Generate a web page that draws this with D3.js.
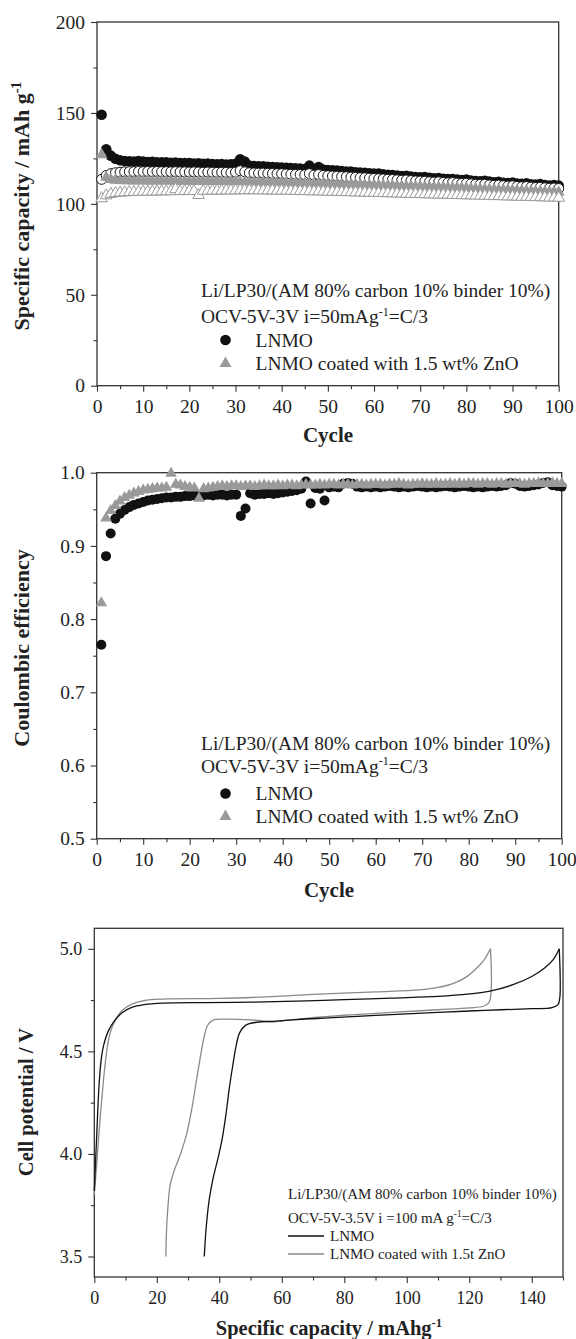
<!DOCTYPE html>
<html>
<head>
<meta charset="utf-8">
<script src="https://cdn.jsdelivr.net/npm/d3@7"></script>
<style>
  body { margin: 0; background: #fff; }
  svg text { font-family: "Liberation Serif", "Times New Roman", serif; fill: #222; }
</style>
</head>
<body>
<div id="chart"></div>
<script>
// ---- data ----
var cycles = d3.range(1, 101);

// panel 1: specific capacity (mAh/g), charge = filled, discharge = open
var lnmoCharge = [149.0,130.0,126.5,124.8,124.0,123.6,123.4,123.3,123.5,123.2,
  123.0,123.1,122.9,122.8,122.9,122.6,122.7,122.5,122.4,122.5,
  122.2,122.3,122.0,122.1,121.9,121.8,121.9,121.6,121.7,122.0,
  124.5,123.3,121.0,120.8,120.6,120.7,120.4,120.3,120.1,120.0,
  119.8,119.7,119.5,119.4,119.2,121.0,119.2,120.2,118.8,118.6,
  118.4,118.3,118.0,117.8,117.7,117.4,117.2,117.1,116.8,116.6,
  116.7,116.2,116.0,115.8,115.5,115.3,115.4,115.0,114.8,114.6,
  114.7,114.3,114.1,114.2,113.8,113.6,113.7,113.3,113.1,113.4,
  112.8,112.6,112.4,112.7,112.2,111.9,112.1,111.6,111.4,111.7,
  111.2,111.0,111.3,110.8,110.6,110.9,110.3,110.1,110.4,110.0];
var lnmoDischarge = [113.5,115.6,116.6,117.1,117.4,117.6,117.7,117.7,117.8,117.7,
  117.8,117.7,117.8,117.7,117.7,117.6,117.7,117.6,117.6,117.5,
  117.6,117.5,117.4,117.5,117.4,117.3,117.4,117.3,117.2,117.4,
  118.2,117.6,117.1,117.0,116.9,116.9,116.8,116.7,116.6,116.6,
  116.4,116.3,116.2,116.1,116.0,116.6,115.8,116.1,115.6,115.5,
  115.3,115.2,115.0,114.9,114.7,114.6,114.4,114.3,114.1,114.0,
  113.8,113.7,113.5,113.4,113.2,113.0,113.1,112.8,112.6,112.5,
  112.4,112.1,112.0,112.1,111.8,111.6,111.7,111.4,111.2,111.3,
  111.0,110.8,110.7,110.8,110.4,110.2,110.3,110.0,109.8,109.9,
  109.6,109.4,109.5,109.2,109.0,109.1,108.8,108.6,108.7,108.4];
var znoCharge = [127.0,114.6,113.4,113.0,112.8,112.7,112.7,112.6,112.7,112.6,
  112.6,112.5,112.6,112.5,112.5,112.6,112.4,112.5,112.4,112.4,
  112.3,112.4,112.3,112.3,112.2,112.3,112.2,112.2,112.1,112.2,
  112.1,112.0,112.1,112.0,111.9,111.9,111.8,111.8,111.7,111.6,
  111.6,111.5,111.4,111.4,111.3,111.2,111.2,111.1,111.0,110.9,
  110.9,110.8,110.7,110.6,110.6,110.5,110.4,110.3,110.3,110.2,
  110.1,110.0,110.0,109.9,109.8,109.7,109.6,109.6,109.5,109.4,
  109.3,109.2,109.2,109.1,109.0,108.9,108.8,108.8,108.7,108.6,
  108.3,108.2,108.1,108.0,107.9,107.8,107.7,107.6,107.5,107.4,
  107.3,107.2,107.1,107.0,106.9,106.8,106.7,106.6,106.5,106.4];
var znoDischarge = [103.0,104.6,105.4,105.9,106.1,106.3,106.4,106.5,106.5,106.6,
  106.6,106.7,106.7,106.8,106.8,106.9,108.0,106.9,107.0,107.0,
  107.0,104.8,107.1,107.1,107.2,107.2,107.2,107.3,107.3,107.3,
  107.4,107.4,107.4,107.4,107.4,107.3,107.3,107.3,107.2,107.2,
  107.1,107.1,107.0,107.0,106.9,106.9,106.8,106.8,106.7,106.6,
  106.6,106.5,106.4,106.4,106.3,106.2,106.2,106.1,106.0,106.0,
  105.9,105.8,105.8,105.7,105.6,105.6,105.5,105.4,105.4,105.3,
  105.2,105.2,105.1,105.0,105.0,104.9,104.8,104.8,104.7,104.6,
  104.6,104.5,104.4,104.4,104.3,104.2,104.2,104.1,104.0,104.0,
  103.9,103.8,103.8,103.7,103.6,103.6,103.5,103.4,103.4,103.3];

// panel 2: coulombic efficiency
var lnmoEff = [0.765,0.886,0.917,0.937,0.944,0.949,0.953,0.956,0.958,0.960,
  0.962,0.963,0.964,0.965,0.966,0.966,0.967,0.967,0.968,0.968,
  0.969,0.968,0.969,0.970,0.969,0.970,0.970,0.969,0.970,0.970,
  0.941,0.951,0.972,0.970,0.971,0.971,0.972,0.971,0.972,0.973,
  0.974,0.975,0.976,0.978,0.988,0.958,0.979,0.978,0.962,0.980,
  0.981,0.980,0.985,0.986,0.985,0.981,0.980,0.981,0.980,0.981,
  0.980,0.981,0.982,0.981,0.980,0.981,0.980,0.981,0.982,0.981,
  0.980,0.981,0.980,0.981,0.982,0.981,0.980,0.981,0.982,0.981,
  0.980,0.981,0.980,0.981,0.982,0.981,0.982,0.983,0.986,0.985,
  0.982,0.981,0.982,0.983,0.984,0.986,0.987,0.983,0.982,0.981];
var znoEff = [0.822,0.938,0.948,0.955,0.961,0.966,0.969,0.972,0.974,0.976,
  0.977,0.978,0.979,0.979,0.980,0.999,0.984,0.983,0.981,0.980,
  0.979,0.965,0.978,0.979,0.980,0.981,0.982,0.981,0.982,0.982,
  0.981,0.982,0.982,0.981,0.982,0.983,0.982,0.982,0.983,0.982,
  0.983,0.983,0.982,0.983,0.984,0.983,0.983,0.984,0.983,0.984,
  0.984,0.983,0.984,0.984,0.983,0.984,0.984,0.983,0.984,0.984,
  0.984,0.983,0.984,0.984,0.985,0.984,0.983,0.984,0.984,0.985,
  0.984,0.984,0.985,0.984,0.984,0.985,0.984,0.985,0.984,0.985,
  0.985,0.984,0.985,0.985,0.984,0.985,0.985,0.984,0.985,0.985,
  0.985,0.984,0.985,0.985,0.986,0.985,0.985,0.986,0.985,0.985];

// panel 3: voltage profiles [capacity mAh/g, V]
var lnmoVCharge = [[0,3.82],[0.8,4.1],[1.5,4.33],[2.2,4.46],[3,4.53],[4.5,4.6],[6.5,4.65],
  [9,4.69],[12,4.715],[16,4.728],[22,4.735],[35,4.738],[50,4.74],[65,4.745],[80,4.752],
  [95,4.76],[110,4.768],[120,4.78],[127,4.795],[134,4.825],[140,4.865],[144,4.905],
  [147,4.95],[148.8,5.0]];
var lnmoVDischarge = [[148.8,5.0],[149.1,4.86],[149,4.765],[148.4,4.728],[146.5,4.713],
  [140,4.708],[125,4.7],[110,4.69],[90,4.675],[75,4.663],[65,4.655],[58,4.647],[52,4.642],
  [48.5,4.628],[46.5,4.59],[45.3,4.52],[44.3,4.43],[43.2,4.32],[42.2,4.2],[41,4.08],
  [39.6,3.98],[38,3.88],[36.8,3.78],[35.8,3.64],[35.2,3.5]];
var znoVCharge = [[0,3.8],[1,4.0],[2,4.2],[3,4.37],[3.8,4.48],[4.6,4.56],[5.5,4.61],[7,4.66],
  [9,4.7],[12,4.73],[16,4.748],[22,4.755],[40,4.758],[55,4.766],[70,4.778],[90,4.79],
  [104,4.8],[110,4.812],[115,4.832],[119,4.862],[122,4.9],[124.7,4.945],[126.8,5.0]];
var znoVDischarge = [[126.8,5.0],[127.1,4.87],[126.9,4.775],[126.3,4.738],[124.5,4.72],
  [120,4.712],[110,4.703],[95,4.69],[80,4.676],[65,4.657],[60,4.648],[57,4.643],[54,4.649],
  [48,4.655],[42,4.657],[38,4.652],[36.2,4.625],[35,4.56],[33.8,4.46],[32.6,4.35],
  [31.2,4.22],[29.6,4.1],[27.6,4.0],[25.6,3.92],[24.3,3.85],[23.6,3.75],[23.1,3.62],[22.9,3.5]];

// tick values
var cycleTicks = [0,10,20,30,40,50,60,70,80,90,100];
var cycleMinor = [5,15,25,35,45,55,65,75,85,95];
var capTicks = [0,50,100,150,200];
var capMinor = [25,75,125,175];
var effTicks = [0.5,0.6,0.7,0.8,0.9,1.0];
var effMinor = [0.55,0.65,0.75,0.85,0.95];
var specTicks = [0,20,40,60,80,100,120,140];
var specMinor = [10,30,50,70,90,110,130,150];
var voltTicks = [3.5,4.0,4.5,5.0];
var voltMinor = [3.75,4.25,4.75];

var svg = d3.select("#chart")
  .append("svg")
    .attr("width", 576)
    .attr("height", 1339);

// axes + frame for one panel
function panel(box, x, y, o) {
  var g = svg.append("g").attr("transform", "translate(" + box.left + "," + box.top + ")");
  var w = box.right - box.left, h = box.bottom - box.top;

  g.append("g").attr("transform", "translate(0," + h + ")")
    .call(d3.axisBottom(x).tickValues(o.xMinor).tickSize(3.5).tickSizeOuter(0).tickFormat(""));
  g.append("g").attr("transform", "translate(0," + h + ")")
    .call(d3.axisBottom(x).tickValues(o.xMajor).tickSize(6).tickSizeOuter(0).tickPadding(o.xPad).tickFormat(o.xFmt))
    .selectAll("text").attr("font-size", o.fs);
  g.append("g")
    .call(d3.axisLeft(y).tickValues(o.yMinor).tickSize(3.5).tickSizeOuter(0).tickFormat(""));
  g.append("g")
    .call(d3.axisLeft(y).tickValues(o.yMajor).tickSize(6).tickSizeOuter(0).tickPadding(6).tickFormat(o.yFmt))
    .selectAll("text").attr("font-size", o.fs);

  g.selectAll(".domain").remove();
  g.selectAll(".tick line").attr("stroke", "#333").attr("stroke-width", 1.1);
  g.selectAll(".tick text").attr("fill", "#222")
    .style("font-family", '"Liberation Serif", "Times New Roman", serif');

  g.append("rect")
    .attr("width", w).attr("height", h)
    .attr("fill", "none").attr("stroke", "#333").attr("stroke-width", 1.3);
  return g;
}

var grey = "#9a9a9a";
var tri = function(s) { return d3.symbol().type(d3.symbolTriangle).size(s)(); };

// text with a "-1" superscript in the middle
function supText(x, y, fs, before, after, bold) {
  var t = svg.append("text").attr("x", x).attr("y", y).attr("font-size", fs);
  if (bold) t.attr("font-weight", "bold");
  t.append("tspan").text(before);
  t.append("tspan").attr("dy", -fs * 0.38).attr("font-size", fs * 0.62).text("-1");
  if (after) t.append("tspan").attr("dy", fs * 0.38).text(after);
  return t;
}

// ================= panel 1 =================
var b1 = {left: 97, right: 558.7, top: 22, bottom: 385.7};
var x1 = d3.scaleLinear().domain([0, 100]).range([0, b1.right - b1.left]);
var y1 = d3.scaleLinear().domain([0, 200]).range([b1.bottom - b1.top, 0]);
var g1 = panel(b1, x1, y1, {xMajor: cycleTicks, xMinor: cycleMinor, yMajor: capTicks, yMinor: capMinor,
  xFmt: d3.format("d"), yFmt: d3.format("d"), fs: 19.5, xPad: 7});

g1.selectAll(".lc").data(lnmoCharge).enter().append("circle")
  .attr("cx", function(d, i) { return x1(cycles[i]); })
  .attr("cy", function(d) { return y1(d); })
  .attr("r", 5.3).attr("fill", "#111");
g1.selectAll(".ld").data(lnmoDischarge).enter().append("circle")
  .attr("cx", function(d, i) { return x1(cycles[i]); })
  .attr("cy", function(d) { return y1(d); })
  .attr("r", 5.0).attr("fill", "#fff").attr("stroke", "#111").attr("stroke-width", 1);
g1.selectAll(".zc").data(znoCharge).enter().append("path")
  .attr("d", tri(62))
  .attr("transform", function(d, i) { return "translate(" + x1(cycles[i]) + "," + y1(d) + ")"; })
  .attr("fill", grey);
g1.selectAll(".zd").data(znoDischarge).enter().append("path")
  .attr("d", tri(58))
  .attr("transform", function(d, i) { return "translate(" + x1(cycles[i]) + "," + y1(d) + ")"; })
  .attr("fill", "#fff").attr("stroke", grey).attr("stroke-width", 1);

svg.append("text").attr("x", 328).attr("y", 442).attr("text-anchor", "middle")
  .attr("font-size", 21).attr("font-weight", "bold").text("Cycle");
var t1 = svg.append("text").attr("transform", "translate(21,206) rotate(-90)")
  .attr("text-anchor", "middle").attr("dy", "0.35em")
  .attr("font-size", 22).attr("font-weight", "bold");
t1.append("tspan").text("Specific capacity / mAh g");
t1.append("tspan").attr("dy", -8).attr("font-size", 14).text("-1");

function cycleLegend(lx, rows) {
  svg.append("text").attr("x", lx).attr("y", rows[0]).attr("font-size", 19.5)
    .text("Li/LP30/(AM 80% carbon 10% binder 10%)");
  supText(lx, rows[1], 19.5, "OCV-5V-3V i=50mAg", "=C/3");
  svg.append("circle").attr("cx", lx + 24.5).attr("cy", rows[2] - 6.5).attr("r", 5.3).attr("fill", "#111");
  svg.append("path").attr("d", tri(62))
    .attr("transform", "translate(" + (lx + 24.5) + "," + (rows[3] - 6.5) + ")").attr("fill", grey);
  svg.append("text").attr("x", lx + 54.5).attr("y", rows[2]).attr("font-size", 19.5).text("LNMO");
  svg.append("text").attr("x", lx + 54.5).attr("y", rows[3]).attr("font-size", 19.5)
    .text("LNMO coated with 1.5 wt% ZnO");
}
cycleLegend(201, [297, 323, 346.5, 370]);

// ================= panel 2 =================
var b2 = {left: 96.7, right: 561.7, top: 472.7, bottom: 838.7};
var x2 = d3.scaleLinear().domain([0, 100]).range([0, b2.right - b2.left]);
var y2 = d3.scaleLinear().domain([0.5, 1.0]).range([b2.bottom - b2.top, 0]);
var g2 = panel(b2, x2, y2, {xMajor: cycleTicks, xMinor: cycleMinor, yMajor: effTicks, yMinor: effMinor,
  xFmt: d3.format("d"), yFmt: d3.format(".1f"), fs: 19.5, xPad: 7});

g2.selectAll(".le").data(lnmoEff).enter().append("circle")
  .attr("cx", function(d, i) { return x2(cycles[i]); })
  .attr("cy", function(d) { return y2(d); })
  .attr("r", 5.0).attr("fill", "#111");
g2.selectAll(".ze").data(znoEff).enter().append("path")
  .attr("d", tri(58))
  .attr("transform", function(d, i) { return "translate(" + x2(cycles[i]) + "," + y2(d) + ")"; })
  .attr("fill", grey);

svg.append("text").attr("x", 329).attr("y", 897).attr("text-anchor", "middle")
  .attr("font-size", 21).attr("font-weight", "bold").text("Cycle");
svg.append("text").attr("transform", "translate(21,648) rotate(-90)")
  .attr("text-anchor", "middle").attr("dy", "0.35em")
  .attr("font-size", 22).attr("font-weight", "bold").text("Coulombic efficiency");
cycleLegend(201, [750, 772.5, 800, 823]);

// ================= panel 3 =================
var b3 = {left: 94.3, right: 563, top: 928.3, bottom: 1277};
var x3 = d3.scaleLinear().domain([0, 150]).range([0, b3.right - b3.left]);
var y3 = d3.scaleLinear().domain([3.4, 5.1]).range([b3.bottom - b3.top, 0]);
var g3 = panel(b3, x3, y3, {xMajor: specTicks, xMinor: specMinor, yMajor: voltTicks, yMinor: voltMinor,
  xFmt: d3.format("d"), yFmt: d3.format(".1f"), fs: 18, xPad: 8});

var vline = d3.line()
  .x(function(d) { return x3(d[0]); })
  .y(function(d) { return y3(d[1]); })
  .curve(d3.curveCatmullRom.alpha(0.5));

[[znoVCharge, "#8a8a8a"], [znoVDischarge, "#8a8a8a"], [lnmoVCharge, "#111"], [lnmoVDischarge, "#111"]]
  .forEach(function(s) {
    g3.append("path").datum(s[0])
      .attr("fill", "none").attr("stroke", s[1]).attr("stroke-width", 1.3)
      .attr("d", vline);
  });

supText(329, 1335, 20.5, "Specific capacity / mAhg", null, true).attr("text-anchor", "middle");
svg.append("text").attr("transform", "translate(26,1102) rotate(-90)")
  .attr("text-anchor", "middle").attr("dy", "0.35em")
  .attr("font-size", 20.5).attr("font-weight", "bold").text("Cell potential / V");

var lx3 = 288;
svg.append("text").attr("x", lx3).attr("y", 1199).attr("font-size", 15)
  .text("Li/LP30/(AM 80% carbon 10% binder 10%)");
supText(lx3, 1223, 15, "OCV-5V-3.5V i =100 mA g", "=C/3");
svg.append("line").attr("x1", lx3).attr("x2", lx3 + 36).attr("y1", 1236).attr("y2", 1236)
  .attr("stroke", "#111").attr("stroke-width", 1.6);
svg.append("line").attr("x1", lx3).attr("x2", lx3 + 36).attr("y1", 1254).attr("y2", 1254)
  .attr("stroke", "#8a8a8a").attr("stroke-width", 1.3);
svg.append("text").attr("x", lx3 + 42).attr("y", 1241).attr("font-size", 15).text("LNMO");
svg.append("text").attr("x", lx3 + 42).attr("y", 1259).attr("font-size", 15)
  .text("LNMO coated with 1.5t ZnO");
</script>
</body>
</html>
